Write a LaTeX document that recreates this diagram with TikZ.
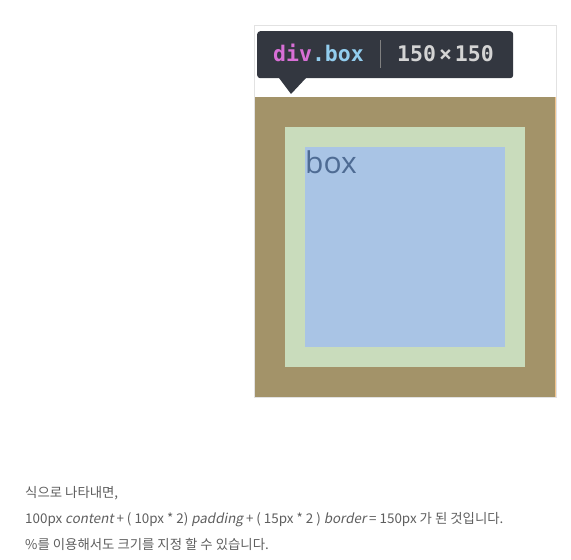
\documentclass[tikz,border=0pt]{standalone}
\usepackage{fontspec}
\setmainfont{Noto Sans CJK KR}[AutoFakeSlant=0.2]
\newfontfamily\labelfont{Open Sans}
\setmonofont{DejaVu Sans Mono}
\usetikzlibrary{positioning, calc}

\definecolor{borderbrown}{HTML}{A39369}
\definecolor{paddinggreen}{HTML}{C9DCBC}
\definecolor{contentblue}{HTML}{A9C4E5}
\definecolor{marginorange}{HTML}{F2C48E}
\definecolor{framegray}{HTML}{E2E2E2}
\definecolor{tipdark}{HTML}{333740}
\definecolor{tagpink}{HTML}{D86FD6}
\definecolor{classblue}{HTML}{92CDEE}
\definecolor{sizegray}{HTML}{D4D4D4}
\definecolor{labelblue}{HTML}{4E6B93}
\definecolor{textgray}{HTML}{5E5E5E}

\tikzset{
	layer/.style={rectangle, inner sep=0pt, minimum width=#1, minimum height=#1},
	note/.style={anchor=base west, inner sep=0pt, text=textgray, font=\fontsize{13.4}{16}\selectfont}
}

\begin{document}
\begin{tikzpicture}[x=1pt, y=-1pt]
	\useasboundingbox (0,0) rectangle (571,560);
	\draw[framegray] (254.5,25.5) rectangle (556.5,397.5);
	\node[layer=300pt, fill=borderbrown] (border) at (405,247) {};
	\node[layer=240pt, fill=paddinggreen] (padding) at (border.center) {};
	\node[layer=200pt, fill=contentblue] (content) at (border.center) {};
	\draw[marginorange, line width=1pt] (border.north east) ++(0.5,0) -- ($(border.south east)+(0.5,0)$);
	\node[anchor=base west, inner sep=0pt, text=labelblue, font=\fontsize{30}{36}\labelfont] (label) at (305,173) {box};

	\node[rectangle, fill=tipdark, rounded corners=3pt, anchor=north west, minimum width=256pt, minimum height=47pt] (tip) at (257,31) {};
	\fill[tipdark] (279,78) -- (306,78) -- (291,94) -- cycle;
	\node[anchor=base west, inner sep=0pt, font=\fontsize{21.5}{25}\ttfamily\bfseries] (tag) at (273,61) {\textcolor{tagpink}{div}\textcolor{classblue}{.box}};
	\draw[gray, line width=1pt] (380,40) -- (380,68);
	\node[anchor=base west, inner sep=0pt, text=sizegray, font=\fontsize{21.5}{25}\ttfamily\bfseries] (size) at (397,61) {150\kern3pt×\kern3pt150};

	\node[note] (line1) at (25,497) {식으로 나타내면,};
	\node[note] (line2) at (25,523) {100px \textit{content} + ( 10px * 2) \textit{padding} + ( 15px * 2 ) \textit{border} = 150px 가 된 것입니다.};
	\node[note] (line3) at (25,549) {\%를 이용해서도 크기를 지정 할 수 있습니다.};
\end{tikzpicture}
\end{document}
